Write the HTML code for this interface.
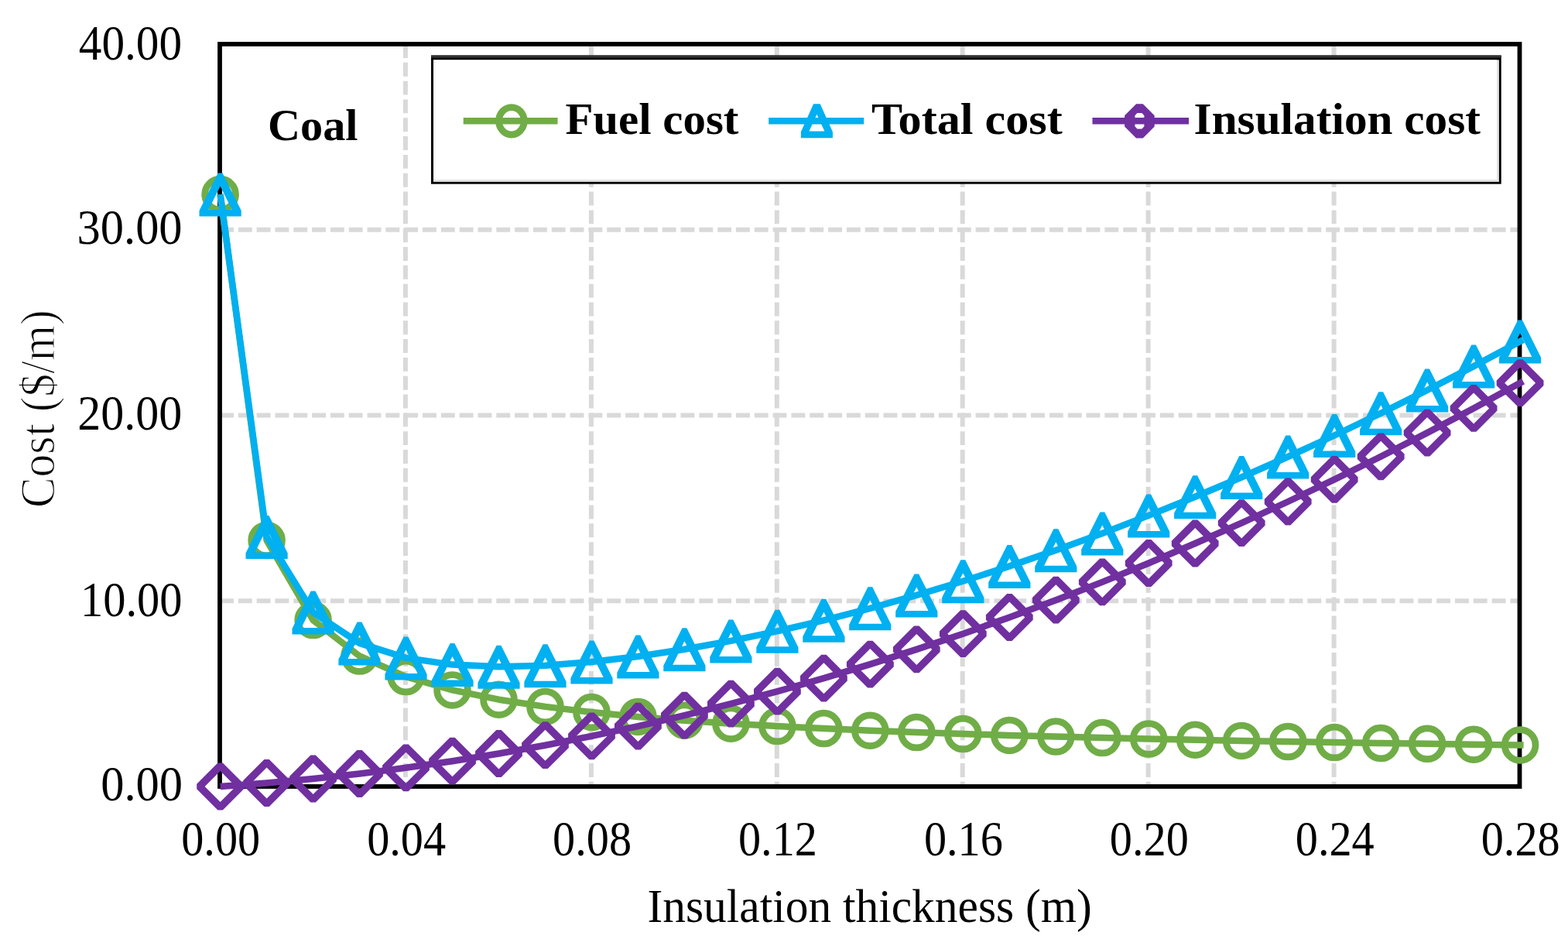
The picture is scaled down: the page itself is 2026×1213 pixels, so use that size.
<!DOCTYPE html>
<html><head><meta charset="utf-8"><title>Cost vs insulation thickness</title>
<style>html,body{margin:0;padding:0;background:#fff;overflow:hidden;}svg{display:block;}</style></head>
<body>
<svg width="2026" height="1213" viewBox="0 0 2026 1213">
<rect width="2026" height="1213" fill="#fff"/>
<g stroke="#D9D9D9" stroke-width="6" stroke-dasharray="17.9 5.92" fill="none"><line x1="284.0" y1="776.2" x2="1963.5" y2="776.2"/><line x1="284.0" y1="536.5" x2="1963.5" y2="536.5"/><line x1="284.0" y1="296.8" x2="1963.5" y2="296.8"/><line x1="523.9" y1="57.0" x2="523.9" y2="1016.0"/><line x1="763.9" y1="57.0" x2="763.9" y2="1016.0"/><line x1="1003.8" y1="57.0" x2="1003.8" y2="1016.0"/><line x1="1243.7" y1="57.0" x2="1243.7" y2="1016.0"/><line x1="1483.6" y1="57.0" x2="1483.6" y2="1016.0"/><line x1="1723.6" y1="57.0" x2="1723.6" y2="1016.0"/></g>
<rect x="284.0" y="57.0" width="1679.5" height="959.0" fill="none" stroke="#000" stroke-width="5.8"/>
<g font-family="'Liberation Serif','Times New Roman',serif" font-size="60" fill="#000">
<text x="101.80" y="76.80" font-size="62.50" textLength="133.28" lengthAdjust="spacingAndGlyphs">40.00</text><text x="99.60" y="315.20" font-size="62.50" textLength="136.00" lengthAdjust="spacingAndGlyphs">30.00</text><text x="100.20" y="555.00" font-size="62.50" textLength="134.97" lengthAdjust="spacingAndGlyphs">20.00</text><text x="104.00" y="795.60" font-size="62.50" textLength="131.42" lengthAdjust="spacingAndGlyphs">10.00</text><text x="130.20" y="1033.60" font-size="62.50" textLength="105.81" lengthAdjust="spacingAndGlyphs">0.00</text>
<text x="234.20" y="1104.80" font-size="63.50" textLength="101.97" lengthAdjust="spacingAndGlyphs">0.00</text><text x="474.13" y="1104.80" font-size="63.50" textLength="101.97" lengthAdjust="spacingAndGlyphs">0.04</text><text x="714.06" y="1104.80" font-size="63.50" textLength="101.97" lengthAdjust="spacingAndGlyphs">0.08</text><text x="953.99" y="1104.80" font-size="63.50" textLength="101.97" lengthAdjust="spacingAndGlyphs">0.12</text><text x="1193.91" y="1104.80" font-size="63.50" textLength="101.97" lengthAdjust="spacingAndGlyphs">0.16</text><text x="1433.84" y="1104.80" font-size="63.50" textLength="101.97" lengthAdjust="spacingAndGlyphs">0.20</text><text x="1673.77" y="1104.80" font-size="63.50" textLength="101.97" lengthAdjust="spacingAndGlyphs">0.24</text><text x="1913.70" y="1104.80" font-size="63.50" textLength="101.97" lengthAdjust="spacingAndGlyphs">0.28</text>
<text x="836.40" y="1190.60" font-size="60.68" textLength="574.44" lengthAdjust="spacingAndGlyphs">Insulation thickness (m)</text>
<text transform="translate(69.50,656.00) rotate(-90)" stroke="#fff" stroke-width="1.2" font-size="62.68" textLength="255.77" lengthAdjust="spacingAndGlyphs">Cost ($/m)</text>
<text x="346.00" y="181.20" font-size="56.19" font-weight="bold" textLength="116.54" lengthAdjust="spacingAndGlyphs">Coal</text>
</g>
<rect x="557" y="71.5" width="1382.7" height="166.2" fill="#000"/>
<rect x="557" y="71.5" width="1382.7" height="3.1" fill="#333"/>
<rect x="560" y="77.4" width="1376.9" height="157.5" fill="#e4e4e4"/>
<rect x="560" y="77.4" width="1374" height="154.5" fill="#fff"/>
<g stroke-width="8.5">
<line x1="598.7" y1="156.2" x2="720.5" y2="156.2" stroke="#70AD47"/>
<line x1="993.2" y1="156.2" x2="1116.2" y2="156.2" stroke="#00B0F0"/>
<line x1="1411.5" y1="156.2" x2="1536" y2="156.2" stroke="#7030A0"/>
</g>
<ellipse cx="660.9" cy="156.3" rx="16.35" ry="17.7" stroke="#70AD47" stroke-width="8.8" fill="none"/>
<path d="M1051.1,134.2L1059.7,134.2L1075.9,170.2L1075.9,178.2L1034.9,178.2L1034.9,170.2ZM1055.4,147.7L1065.4,169.5L1045.4,169.5Z" fill="#00B0F0" fill-rule="evenodd"/>
<path d="M1468.1,134.2L1476.7,134.2L1491.7,149.2L1491.7,163.4L1476.7,178.4L1468.1,178.4L1453.1,163.4L1453.1,149.2ZM1469.4,146.1L1475.4,146.1L1478.4,149.3L1478.4,163.3L1475.4,166.5L1469.4,166.5L1466.4,163.3L1466.4,149.3Z" fill="#7030A0" fill-rule="evenodd"/>
<g font-family="'Liberation Serif','Times New Roman',serif" fill="#000">
<text x="730.40" y="173.00" font-size="57.00" font-weight="bold" textLength="224.02" lengthAdjust="spacingAndGlyphs">Fuel cost</text>
<text x="1126.00" y="173.00" font-size="57.00" font-weight="bold" textLength="246.81" lengthAdjust="spacingAndGlyphs">Total cost</text>
<text x="1542.60" y="173.00" font-size="57.00" font-weight="bold" textLength="370.42" lengthAdjust="spacingAndGlyphs">Insulation cost</text>
</g>
<polyline points="284.6,251.1 344.6,698 404.6,801.1 464.5,847.5 524.5,874.1 584.5,891.4 644.5,903.7 704.5,912.9 764.5,920.1 824.4,925.9 884.4,930.7 944.4,934.7 1004.4,938.1 1064.4,941.1 1124.3,943.7 1184.3,946 1244.3,948 1304.3,949.9 1364.3,951.6 1424.3,953.1 1484.2,954.5 1544.2,955.7 1604.2,956.9 1664.2,958 1724.2,959 1784.2,960 1844.1,960.8 1904.1,961.7 1964.1,962.4 1968.6,962.5" fill="none" stroke="#70AD47" stroke-width="8.5" stroke-linejoin="round"/>
<g fill="none" stroke="#70AD47" stroke-width="8.75"><circle cx="284.6" cy="251.1" r="19.9"/><circle cx="344.6" cy="698" r="19.9"/><circle cx="404.6" cy="801.1" r="19.9"/><circle cx="464.5" cy="847.5" r="19.9"/><circle cx="524.5" cy="874.1" r="19.9"/><circle cx="584.5" cy="891.4" r="19.9"/><circle cx="644.5" cy="903.7" r="19.9"/><circle cx="704.5" cy="912.9" r="19.9"/><circle cx="764.5" cy="920.1" r="19.9"/><circle cx="824.4" cy="925.9" r="19.9"/><circle cx="884.4" cy="930.7" r="19.9"/><circle cx="944.4" cy="934.7" r="19.9"/><circle cx="1004.4" cy="938.1" r="19.9"/><circle cx="1064.4" cy="941.1" r="19.9"/><circle cx="1124.3" cy="943.7" r="19.9"/><circle cx="1184.3" cy="946" r="19.9"/><circle cx="1244.3" cy="948" r="19.9"/><circle cx="1304.3" cy="949.9" r="19.9"/><circle cx="1364.3" cy="951.6" r="19.9"/><circle cx="1424.3" cy="953.1" r="19.9"/><circle cx="1484.2" cy="954.5" r="19.9"/><circle cx="1544.2" cy="955.7" r="19.9"/><circle cx="1604.2" cy="956.9" r="19.9"/><circle cx="1664.2" cy="958" r="19.9"/><circle cx="1724.2" cy="959" r="19.9"/><circle cx="1784.2" cy="960" r="19.9"/><circle cx="1844.1" cy="960.8" r="19.9"/><circle cx="1904.1" cy="961.7" r="19.9"/><circle cx="1964.1" cy="962.4" r="19.9"/></g>
<polyline points="284.6,251.1 344.6,693.6 404.6,791.1 464.5,830.9 524.5,849.9 584.5,858.6 644.5,861.2 704.5,859.7 764.5,855 824.4,848 884.4,838.8 944.4,827.9 1004.4,815.3 1064.4,801.3 1124.3,785.8 1184.3,768.9 1244.3,750.8 1304.3,731.4 1364.3,710.8 1424.3,688.9 1484.2,665.9 1544.2,641.8 1604.2,616.5 1664.2,590 1724.2,562.5 1784.2,533.8 1844.1,504 1904.1,473.1 1964.1,441.1 1968.1,439" fill="none" stroke="#00B0F0" stroke-width="8.5" stroke-linejoin="round"/>
<g fill="#00B0F0" fill-rule="evenodd"><path d="M281.7,223.6L287.5,223.6L311.7,272L311.7,279.6L257.5,279.6L257.5,272ZM284.6,240.6L299.8,271.1L269.4,271.1Z"/><path d="M341.7,666.1L347.5,666.1L371.7,714.5L371.7,722.1L317.5,722.1L317.5,714.5ZM344.6,683.1L359.8,713.6L329.4,713.6Z"/><path d="M401.7,763.6L407.5,763.6L431.7,812L431.7,819.6L377.5,819.6L377.5,812ZM404.6,780.6L419.8,811.1L389.4,811.1Z"/><path d="M461.6,803.4L467.4,803.4L491.6,851.8L491.6,859.4L437.4,859.4L437.4,851.8ZM464.5,820.4L479.7,850.9L449.3,850.9Z"/><path d="M521.6,822.4L527.4,822.4L551.6,870.8L551.6,878.4L497.4,878.4L497.4,870.8ZM524.5,839.4L539.7,869.9L509.3,869.9Z"/><path d="M581.6,831.1L587.4,831.1L611.6,879.5L611.6,887.1L557.4,887.1L557.4,879.5ZM584.5,848.1L599.7,878.6L569.3,878.6Z"/><path d="M641.6,833.7L647.4,833.7L671.6,882.1L671.6,889.7L617.4,889.7L617.4,882.1ZM644.5,850.7L659.7,881.2L629.3,881.2Z"/><path d="M701.6,832.2L707.4,832.2L731.6,880.6L731.6,888.2L677.4,888.2L677.4,880.6ZM704.5,849.2L719.7,879.7L689.3,879.7Z"/><path d="M761.6,827.5L767.4,827.5L791.6,875.9L791.6,883.5L737.4,883.5L737.4,875.9ZM764.5,844.5L779.7,875L749.3,875Z"/><path d="M821.5,820.5L827.3,820.5L851.5,868.9L851.5,876.5L797.3,876.5L797.3,868.9ZM824.4,837.5L839.6,868L809.2,868Z"/><path d="M881.5,811.3L887.3,811.3L911.5,859.7L911.5,867.3L857.3,867.3L857.3,859.7ZM884.4,828.3L899.6,858.8L869.2,858.8Z"/><path d="M941.5,800.4L947.3,800.4L971.5,848.8L971.5,856.4L917.3,856.4L917.3,848.8ZM944.4,817.4L959.6,847.9L929.2,847.9Z"/><path d="M1001.5,787.8L1007.3,787.8L1031.5,836.2L1031.5,843.8L977.3,843.8L977.3,836.2ZM1004.4,804.8L1019.6,835.3L989.2,835.3Z"/><path d="M1061.5,773.8L1067.3,773.8L1091.5,822.2L1091.5,829.8L1037.3,829.8L1037.3,822.2ZM1064.4,790.8L1079.6,821.3L1049.2,821.3Z"/><path d="M1121.4,758.3L1127.2,758.3L1151.4,806.7L1151.4,814.3L1097.2,814.3L1097.2,806.7ZM1124.3,775.3L1139.5,805.8L1109.1,805.8Z"/><path d="M1181.4,741.4L1187.2,741.4L1211.4,789.8L1211.4,797.4L1157.2,797.4L1157.2,789.8ZM1184.3,758.4L1199.5,788.9L1169.1,788.9Z"/><path d="M1241.4,723.3L1247.2,723.3L1271.4,771.7L1271.4,779.3L1217.2,779.3L1217.2,771.7ZM1244.3,740.3L1259.5,770.8L1229.1,770.8Z"/><path d="M1301.4,703.9L1307.2,703.9L1331.4,752.3L1331.4,759.9L1277.2,759.9L1277.2,752.3ZM1304.3,720.9L1319.5,751.4L1289.1,751.4Z"/><path d="M1361.4,683.3L1367.2,683.3L1391.4,731.7L1391.4,739.3L1337.2,739.3L1337.2,731.7ZM1364.3,700.3L1379.5,730.8L1349.1,730.8Z"/><path d="M1421.4,661.4L1427.2,661.4L1451.4,709.8L1451.4,717.4L1397.2,717.4L1397.2,709.8ZM1424.3,678.4L1439.5,708.9L1409.1,708.9Z"/><path d="M1481.3,638.4L1487.1,638.4L1511.3,686.8L1511.3,694.4L1457.1,694.4L1457.1,686.8ZM1484.2,655.4L1499.4,685.9L1469,685.9Z"/><path d="M1541.3,614.3L1547.1,614.3L1571.3,662.7L1571.3,670.3L1517.1,670.3L1517.1,662.7ZM1544.2,631.3L1559.4,661.8L1529,661.8Z"/><path d="M1601.3,589L1607.1,589L1631.3,637.4L1631.3,645L1577.1,645L1577.1,637.4ZM1604.2,606L1619.4,636.5L1589,636.5Z"/><path d="M1661.3,562.5L1667.1,562.5L1691.3,610.9L1691.3,618.5L1637.1,618.5L1637.1,610.9ZM1664.2,579.5L1679.4,610L1649,610Z"/><path d="M1721.3,535L1727.1,535L1751.3,583.4L1751.3,591L1697.1,591L1697.1,583.4ZM1724.2,552L1739.4,582.5L1709,582.5Z"/><path d="M1781.3,506.3L1787.1,506.3L1811.3,554.7L1811.3,562.3L1757.1,562.3L1757.1,554.7ZM1784.2,523.3L1799.4,553.8L1769,553.8Z"/><path d="M1841.2,476.5L1847,476.5L1871.2,524.9L1871.2,532.5L1817,532.5L1817,524.9ZM1844.1,493.5L1859.3,524L1828.9,524Z"/><path d="M1901.2,445.6L1907,445.6L1931.2,494L1931.2,501.6L1877,501.6L1877,494ZM1904.1,462.6L1919.3,493.1L1888.9,493.1Z"/><path d="M1961.2,413.6L1967,413.6L1991.2,462L1991.2,469.6L1937,469.6L1937,462ZM1964.1,430.6L1979.3,461.1L1948.9,461.1Z"/></g>
<polyline points="284.6,1016 344.6,1011.5 404.6,1006 464.5,999.5 524.5,991.8 584.5,983.2 644.5,973.5 704.5,962.7 764.5,950.9 824.4,938.1 884.4,924.2 944.4,909.2 1004.4,893.2 1064.4,876.2 1124.3,858.1 1184.3,838.9 1244.3,818.7 1304.3,797.5 1364.3,775.2 1424.3,751.9 1484.2,727.5 1544.2,702 1604.2,675.6 1664.2,648 1724.2,619.4 1784.2,589.8 1844.1,559.1 1904.1,527.4 1964.1,494.7 1968,492.5" fill="none" stroke="#7030A0" stroke-width="8.5" stroke-linejoin="round"/>
<g fill="#7030A0" fill-rule="evenodd"><path d="M281.4,985.6L287.8,985.6L315,1012.8L315,1019.2L287.8,1046.4L281.4,1046.4L254.2,1019.2L254.2,1012.8ZM284.6,996L304.6,1016L284.6,1036L264.6,1016Z"/><path d="M341.4,981.1L347.8,981.1L375,1008.3L375,1014.7L347.8,1041.9L341.4,1041.9L314.2,1014.7L314.2,1008.3ZM344.6,991.5L364.6,1011.5L344.6,1031.5L324.6,1011.5Z"/><path d="M401.4,975.6L407.8,975.6L435,1002.8L435,1009.2L407.8,1036.4L401.4,1036.4L374.2,1009.2L374.2,1002.8ZM404.6,986L424.6,1006L404.6,1026L384.6,1006Z"/><path d="M461.3,969.1L467.7,969.1L494.9,996.3L494.9,1002.7L467.7,1029.9L461.3,1029.9L434.1,1002.7L434.1,996.3ZM464.5,979.5L484.5,999.5L464.5,1019.5L444.5,999.5Z"/><path d="M521.3,961.4L527.7,961.4L554.9,988.6L554.9,995L527.7,1022.2L521.3,1022.2L494.1,995L494.1,988.6ZM524.5,971.8L544.5,991.8L524.5,1011.8L504.5,991.8Z"/><path d="M581.3,952.8L587.7,952.8L614.9,980L614.9,986.4L587.7,1013.6L581.3,1013.6L554.1,986.4L554.1,980ZM584.5,963.2L604.5,983.2L584.5,1003.2L564.5,983.2Z"/><path d="M641.3,943.1L647.7,943.1L674.9,970.3L674.9,976.7L647.7,1003.9L641.3,1003.9L614.1,976.7L614.1,970.3ZM644.5,953.5L664.5,973.5L644.5,993.5L624.5,973.5Z"/><path d="M701.3,932.3L707.7,932.3L734.9,959.5L734.9,965.9L707.7,993.1L701.3,993.1L674.1,965.9L674.1,959.5ZM704.5,942.7L724.5,962.7L704.5,982.7L684.5,962.7Z"/><path d="M761.3,920.5L767.7,920.5L794.9,947.7L794.9,954.1L767.7,981.3L761.3,981.3L734.1,954.1L734.1,947.7ZM764.5,930.9L784.5,950.9L764.5,970.9L744.5,950.9Z"/><path d="M821.2,907.7L827.6,907.7L854.8,934.9L854.8,941.3L827.6,968.5L821.2,968.5L794,941.3L794,934.9ZM824.4,918.1L844.4,938.1L824.4,958.1L804.4,938.1Z"/><path d="M881.2,893.8L887.6,893.8L914.8,921L914.8,927.4L887.6,954.6L881.2,954.6L854,927.4L854,921ZM884.4,904.2L904.4,924.2L884.4,944.2L864.4,924.2Z"/><path d="M941.2,878.8L947.6,878.8L974.8,906L974.8,912.4L947.6,939.6L941.2,939.6L914,912.4L914,906ZM944.4,889.2L964.4,909.2L944.4,929.2L924.4,909.2Z"/><path d="M1001.2,862.8L1007.6,862.8L1034.8,890L1034.8,896.4L1007.6,923.6L1001.2,923.6L974,896.4L974,890ZM1004.4,873.2L1024.4,893.2L1004.4,913.2L984.4,893.2Z"/><path d="M1061.2,845.8L1067.6,845.8L1094.8,873L1094.8,879.4L1067.6,906.6L1061.2,906.6L1034,879.4L1034,873ZM1064.4,856.2L1084.4,876.2L1064.4,896.2L1044.4,876.2Z"/><path d="M1121.1,827.7L1127.5,827.7L1154.8,854.9L1154.8,861.3L1127.5,888.5L1121.1,888.5L1093.9,861.3L1093.9,854.9ZM1124.3,838.1L1144.3,858.1L1124.3,878.1L1104.3,858.1Z"/><path d="M1181.1,808.5L1187.5,808.5L1214.7,835.7L1214.7,842.1L1187.5,869.3L1181.1,869.3L1153.9,842.1L1153.9,835.7ZM1184.3,818.9L1204.3,838.9L1184.3,858.9L1164.3,838.9Z"/><path d="M1241.1,788.3L1247.5,788.3L1274.7,815.5L1274.7,821.9L1247.5,849.1L1241.1,849.1L1213.9,821.9L1213.9,815.5ZM1244.3,798.7L1264.3,818.7L1244.3,838.7L1224.3,818.7Z"/><path d="M1301.1,767.1L1307.5,767.1L1334.7,794.3L1334.7,800.7L1307.5,827.9L1301.1,827.9L1273.9,800.7L1273.9,794.3ZM1304.3,777.5L1324.3,797.5L1304.3,817.5L1284.3,797.5Z"/><path d="M1361.1,744.8L1367.5,744.8L1394.7,772L1394.7,778.4L1367.5,805.6L1361.1,805.6L1333.9,778.4L1333.9,772ZM1364.3,755.2L1384.3,775.2L1364.3,795.2L1344.3,775.2Z"/><path d="M1421.1,721.5L1427.5,721.5L1454.7,748.7L1454.7,755.1L1427.5,782.3L1421.1,782.3L1393.9,755.1L1393.9,748.7ZM1424.3,731.9L1444.3,751.9L1424.3,771.9L1404.3,751.9Z"/><path d="M1481,697.1L1487.4,697.1L1514.6,724.3L1514.6,730.7L1487.4,757.9L1481,757.9L1453.8,730.7L1453.8,724.3ZM1484.2,707.5L1504.2,727.5L1484.2,747.5L1464.2,727.5Z"/><path d="M1541,671.6L1547.4,671.6L1574.6,698.8L1574.6,705.2L1547.4,732.4L1541,732.4L1513.8,705.2L1513.8,698.8ZM1544.2,682L1564.2,702L1544.2,722L1524.2,702Z"/><path d="M1601,645.2L1607.4,645.2L1634.6,672.4L1634.6,678.8L1607.4,706L1601,706L1573.8,678.8L1573.8,672.4ZM1604.2,655.6L1624.2,675.6L1604.2,695.6L1584.2,675.6Z"/><path d="M1661,617.6L1667.4,617.6L1694.6,644.8L1694.6,651.2L1667.4,678.4L1661,678.4L1633.8,651.2L1633.8,644.8ZM1664.2,628L1684.2,648L1664.2,668L1644.2,648Z"/><path d="M1721,589L1727.4,589L1754.6,616.2L1754.6,622.6L1727.4,649.8L1721,649.8L1693.8,622.6L1693.8,616.2ZM1724.2,599.4L1744.2,619.4L1724.2,639.4L1704.2,619.4Z"/><path d="M1781,559.4L1787.4,559.4L1814.6,586.6L1814.6,593L1787.4,620.2L1781,620.2L1753.8,593L1753.8,586.6ZM1784.2,569.8L1804.2,589.8L1784.2,609.8L1764.2,589.8Z"/><path d="M1840.9,528.7L1847.3,528.7L1874.5,555.9L1874.5,562.3L1847.3,589.5L1840.9,589.5L1813.7,562.3L1813.7,555.9ZM1844.1,539.1L1864.1,559.1L1844.1,579.1L1824.1,559.1Z"/><path d="M1900.9,497L1907.3,497L1934.5,524.2L1934.5,530.6L1907.3,557.8L1900.9,557.8L1873.7,530.6L1873.7,524.2ZM1904.1,507.4L1924.1,527.4L1904.1,547.4L1884.1,527.4Z"/><path d="M1960.9,464.3L1967.3,464.3L1994.5,491.5L1994.5,497.9L1967.3,525.1L1960.9,525.1L1933.7,497.9L1933.7,491.5ZM1964.1,474.7L1984.1,494.7L1964.1,514.7L1944.1,494.7Z"/></g>
</svg>
</body></html>
